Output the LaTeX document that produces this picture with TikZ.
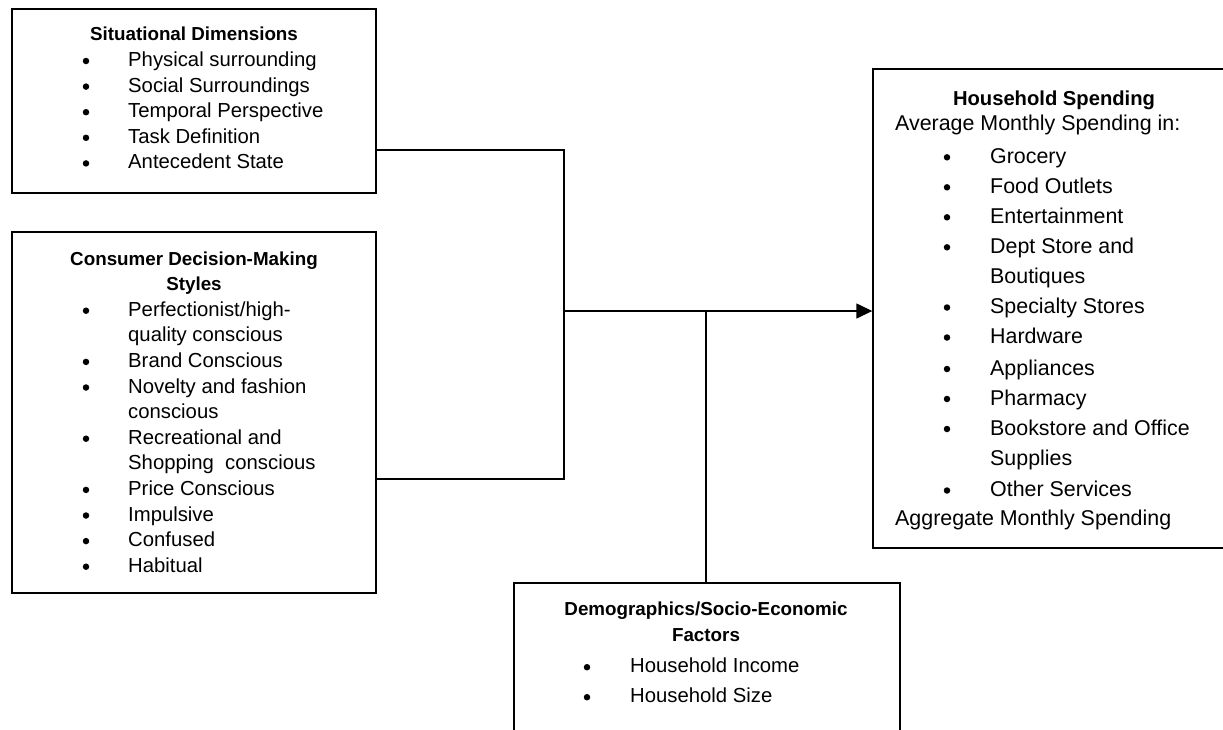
\documentclass[tikz,border=0pt]{standalone}
\usepackage{fontspec}
\setmainfont{Liberation Sans}
\usetikzlibrary{arrows.meta}
\tikzset{
  box/.style={draw, line width=1.4pt, rectangle, inner sep=0pt},
  wire/.style={line width=1.4pt},
  body/.style={anchor=base west, inner sep=0pt, font=\fontsize{20.3}{24}\selectfont},
  bodyl/.style={anchor=base west, inner sep=0pt, font=\fontsize{21.4}{25}\selectfont},
  head/.style={anchor=base, inner sep=0pt, font=\bfseries\fontsize{18.8}{22}\selectfont},
  headl/.style={anchor=base, inner sep=0pt, font=\bfseries\fontsize{20.2}{24}\selectfont},
  dot/.style={circle, fill=black, inner sep=0pt, minimum size=6.5pt},
}
\begin{document}
\begin{tikzpicture}[x=1pt,y=-1pt]
\useasboundingbox[fill=white] (0,0) rectangle (1223,729);

% ---- Box 1: Situational Dimensions
\node[box, minimum width=364pt, minimum height=184pt] (sit) at (194,101) {};
\node[head] (sith) at (194,40) {Situational Dimensions};
\foreach \t [count=\i] in {Physical surrounding, Social Surroundings, Temporal Perspective, Task Definition, Antecedent State}{
  \node[dot] (sitb\i) at (86,{66.5+25.6*(\i-1)-5.5}) {};
  \node[body] (sitt\i) at (128,{66.5+25.6*(\i-1)}) {\t};
}

% ---- Box 2: Consumer Decision-Making Styles
\node[box, minimum width=364pt, minimum height=361pt] (cdm) at (194,412.5) {};
\node[head] (cdmh1) at (194,265) {Consumer Decision-Making};
\node[head] (cdmh2) at (194,290.6) {Styles};
\node[body] (cdmt1) at (128,316.2) {Perfectionist/high-};
\node[body] (cdmt2) at (128,341.8) {quality conscious};
\node[body] (cdmt3) at (128,367.4) {Brand Conscious};
\node[body] (cdmt4) at (128,393) {Novelty and fashion};
\node[body] (cdmt5) at (128,418.6) {conscious};
\node[body] (cdmt6) at (128,444.2) {Recreational and};
\node[body] (cdmt7) at (128,469.8) {Shopping~ conscious};
\node[body] (cdmt8) at (128,495.4) {Price Conscious};
\node[body] (cdmt9) at (128,521) {Impulsive};
\node[body] (cdmt10) at (128,546.6) {Confused};
\node[body] (cdmt11) at (128,572.2) {Habitual};
\foreach \y [count=\i] in {316.2,367.4,393,444.2,495.4,521,546.6,572.2}{
  \node[dot] (cdmb\i) at (86,\y-5.5) {};
}

% ---- Box 3: Household Spending
\node[box, minimum width=380pt, minimum height=479pt] (hs) at (1063,308.5) {};
\node[headl] (hsh) at (1054,105) {Household Spending};
\node[bodyl] (hsa) at (895,130.7) {Average Monthly Spending in:};
\node[bodyl] (hst1) at (990,163.3) {Grocery};
\node[bodyl] (hst2) at (990,193.3) {Food Outlets};
\node[bodyl] (hst3) at (990,223.3) {Entertainment};
\node[bodyl] (hst4) at (990,253.3) {Dept Store and};
\node[bodyl] (hst5) at (990,283.3) {Boutiques};
\node[bodyl] (hst6) at (990,313.5) {Specialty Stores};
\node[bodyl] (hst7) at (990,343.5) {Hardware};
\node[bodyl] (hst8) at (990,375) {Appliances};
\node[bodyl] (hst9) at (990,405) {Pharmacy};
\node[bodyl] (hst10) at (990,435) {Bookstore and Office};
\node[bodyl] (hst11) at (990,465) {Supplies};
\node[bodyl] (hst12) at (990,496.5) {Other Services};
\node[bodyl] (hsg) at (895,525) {Aggregate Monthly Spending};
\foreach \y [count=\i] in {163.3,193.3,223.3,253.3,313.5,343.5,375,405,435,496.5}{
  \node[dot] (hsb\i) at (947,\y-6) {};
}

% ---- Box 4: Demographics
\node[box, minimum width=386pt, minimum height=190pt] (dem) at (707,678) {};
\node[head] (demh1) at (706,615) {Demographics/Socio-Economic};
\node[head] (demh2) at (706,641.7) {Factors};
\node[dot] (demb1) at (587,667.2) {};
\node[body] (demt1) at (630,672.7) {Household Income};
\node[dot] (demb2) at (587,697.2) {};
\node[body] (demt2) at (630,702.7) {Household Size};

% ---- Connectors
\coordinate (j1) at (564,150);
\coordinate (j2) at (564,479);
\coordinate (jm) at (564,311);
\coordinate (jd) at (706,311);
\draw[wire] (sit.east |- j1) -- (j1) -- (jm);
\draw[wire] (cdm.east |- j2) -- (j2) -- (jm);
\draw[wire, -{Triangle[length=16pt,width=15pt]}] (jm) -- (hs.west |- jm);
\draw[wire] (jd) -- (jd |- dem.north);
\end{tikzpicture}
\end{document}
